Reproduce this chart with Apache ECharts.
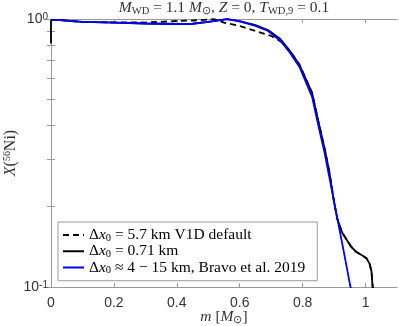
<!DOCTYPE html>
<html>
<head>
<meta charset="utf-8">
<script src="https://cdn.jsdelivr.net/npm/echarts@6/dist/echarts.min.js"></script>
<style>
  html, body { margin: 0; padding: 0; background: #fff; }
  #chart { width: 399px; height: 326px; }
</style>
</head>
<body>
<div id="chart"></div>
<script>
// mass coordinate m [Msun] and 56Ni mass fraction
const mDefault = [0, 0.03, 0.035, 0.1, 0.2, 0.3, 0.4, 0.45, 0.52, 0.55, 0.6, 0.65, 0.7, 0.73, 0.76, 0.79, 0.83, 0.85, 0.87, 0.885, 0.9, 0.91, 0.925, 0.94, 0.955, 0.971, 0.99, 1.003, 1.013, 1.019, 1.022, 1.026]
const xDefault = [0.99, 0.99, 0.977, 0.975, 0.972, 0.97, 0.983, 0.987, 0.998, 0.97, 0.942, 0.902, 0.864, 0.825, 0.76, 0.675, 0.53, 0.415, 0.328, 0.268, 0.207, 0.18, 0.16, 0.15, 0.141, 0.135, 0.131, 0.128, 0.122, 0.114, 0.102, 0.09]

const mFine = [0, 0, 0.03, 0.035, 0.1, 0.2, 0.3, 0.4, 0.45, 0.5, 0.56, 0.6, 0.65, 0.69, 0.73, 0.76, 0.79, 0.83, 0.85, 0.87, 0.885, 0.9, 0.91, 0.925, 0.94, 0.955, 0.971, 0.99, 1.003, 1.013, 1.019, 1.022, 1.026]
const xFine = [0.81, 0.99, 0.99, 0.977, 0.975, 0.97, 0.962, 0.958, 0.96, 0.975, 0.998, 0.982, 0.948, 0.91, 0.84, 0.76, 0.675, 0.53, 0.415, 0.328, 0.268, 0.207, 0.18, 0.16, 0.15, 0.141, 0.135, 0.131, 0.128, 0.122, 0.114, 0.102, 0.09]

const mBravo = [0, 0.03, 0.035, 0.1, 0.2, 0.3, 0.4, 0.45, 0.5, 0.56, 0.6, 0.65, 0.69, 0.73, 0.76, 0.79, 0.83, 0.85, 0.87, 0.89, 0.91, 0.93, 0.95, 0.96]
const xBravo = [0.99, 0.99, 0.977, 0.975, 0.97, 0.962, 0.958, 0.96, 0.975, 0.998, 0.979, 0.942, 0.902, 0.828, 0.747, 0.662, 0.512, 0.4, 0.316, 0.239, 0.181, 0.137, 0.103, 0.09]

const xTicks = [0, 0.2, 0.4, 0.6, 0.8, 1]
const yLabels = [0.1, 1]
const yMinorTicks = [0.1, 0.2, 0.3, 0.4, 0.5, 0.6, 0.7, 0.8, 0.9, 1]

const legendText = {
  default: '{a|Δ}{i|x}{s|0}{a| = 5.7 km V1D default}',
  fine: '{a|Δ}{i|x}{s|0}{a| = 0.71 km}',
  bravo: '{a|Δ}{i|x}{s|0}{a| ≈ 4 − 15 km, Bravo et al. 2019}'
}

const serif = 'Liberation Serif'
const textColor = '#333'
const axisColor = '#999'

function pairs(ms, xs) {
  return ms.map((m, i) => [m, xs[i]])
}

function serifRich(size, color) {
  return {
    a: { fontFamily: serif, fontSize: size, lineHeight: size + 1, fontWeight: 'normal', color: color },
    i: { fontFamily: serif, fontSize: size, lineHeight: size + 1, fontStyle: 'italic', fontWeight: 'normal', color: color },
    s: { fontFamily: serif, fontSize: size * 0.68, lineHeight: size * 0.55, verticalAlign: 'bottom', fontWeight: 'normal', color: color },
    p: { fontFamily: serif, fontSize: size * 0.62, lineHeight: size * 0.55, verticalAlign: 'top', fontWeight: 'normal', color: color }
  }
}

const chart = echarts.init(document.getElementById('chart'))

const tickStyle = { inside: true, length: 4, lineStyle: { color: axisColor, width: 1 } }

chart.setOption({
  animation: false,
  title: {
    text: '{i|M}{s|WD}{a| = 1.1 }{i|M}{s|⊙}{a|, }{i|Z}{a| = 0, }{i|T}{s|WD,9}{a| = 0.1}',
    left: 224,
    textAlign: 'center',
    top: 0,
    padding: 0,
    textStyle: { fontWeight: 'normal', rich: serifRich(15.5, textColor) }
  },
  grid: { left: 51, right: 2, top: 19, bottom: 39, outerBoundsMode: 'none', containLabel: false },
  legend: {
    orient: 'vertical',
    left: 58,
    top: 222,
    itemWidth: 21,
    itemHeight: 12,
    itemGap: 0,
    padding: [5, 12, 5, 4],
    borderColor: '#999',
    borderWidth: 1,
    backgroundColor: '#fff',
    itemStyle: { opacity: 0 },
    data: ['default', 'fine', 'bravo'],
    formatter: name => legendText[name],
    textStyle: { rich: serifRich(15.5, '#000') }
  },
  xAxis: [
    {
      type: 'value',
      min: 0,
      max: 1.1,
      name: '{i|m}{a| [}{i|M}{s|⊙}{a|]}',
      nameLocation: 'middle',
      nameGap: 22,
      nameMoveOverlap: false,
      nameTextStyle: { rich: serifRich(15.5, textColor) },
      axisLine: { onZero: false, lineStyle: { color: axisColor } },
      axisTick: Object.assign({ customValues: xTicks }, tickStyle),
      axisLabel: {
        customValues: xTicks,
        formatter: v => String(v),
        fontFamily: 'Liberation Sans',
        fontSize: 14,
        color: textColor,
        margin: 9
      },
      splitLine: { show: false }
    },
    {
      type: 'value',
      min: 0,
      max: 1.1,
      position: 'top',
      axisLine: { onZero: false, lineStyle: { color: axisColor } },
      axisTick: Object.assign({ customValues: xTicks }, tickStyle),
      axisLabel: { show: false },
      splitLine: { show: false }
    }
  ],
  yAxis: [
    {
      type: 'log',
      logBase: 10,
      min: 0.1,
      max: 1,
      name: '{i|X}{a|(}{p|56}{a|Ni)}',
      nameLocation: 'middle',
      nameRotate: 90,
      nameGap: 32,
      nameMoveOverlap: false,
      nameTextStyle: { rich: serifRich(16, textColor) },
      axisLine: { lineStyle: { color: axisColor } },
      axisTick: Object.assign({ customValues: yMinorTicks }, tickStyle),
      axisLabel: {
        customValues: yLabels,
        formatter: v => (v >= 1 ? '{b|10}{p|0}' : '{b|10}{p|-1}'),
        margin: 3,
        verticalAlign: 'middle',
        rich: {
          b: { fontFamily: 'Liberation Sans', fontSize: 14, lineHeight: 14, color: textColor },
          p: { fontFamily: 'Liberation Sans', fontSize: 10, lineHeight: 10, verticalAlign: 'top', color: textColor }
        }
      },
      splitLine: { show: false }
    },
    {
      type: 'log',
      logBase: 10,
      min: 0.1,
      max: 1,
      position: 'right',
      axisLine: { show: true, lineStyle: { color: axisColor } },
      axisTick: Object.assign({ customValues: yMinorTicks }, tickStyle),
      axisLabel: { show: false },
      splitLine: { show: false }
    }
  ],
  series: [
    {
      name: 'default',
      type: 'line',
      symbol: 'none',
      clip: true,
      lineStyle: { color: '#000', width: 1.8, type: [6, 4] },
      itemStyle: { color: '#000' },
      data: pairs(mDefault, xDefault)
    },
    {
      name: 'fine',
      type: 'line',
      symbol: 'none',
      clip: true,
      lineStyle: { color: '#000', width: 1.8 },
      itemStyle: { color: '#000' },
      data: pairs(mFine, xFine)
    },
    {
      name: 'bravo',
      type: 'line',
      symbol: 'none',
      clip: true,
      lineStyle: { color: '#0000ff', width: 1.8 },
      itemStyle: { color: '#0000ff' },
      data: pairs(mBravo, xBravo)
    }
  ]
})
</script>
</body>
</html>
